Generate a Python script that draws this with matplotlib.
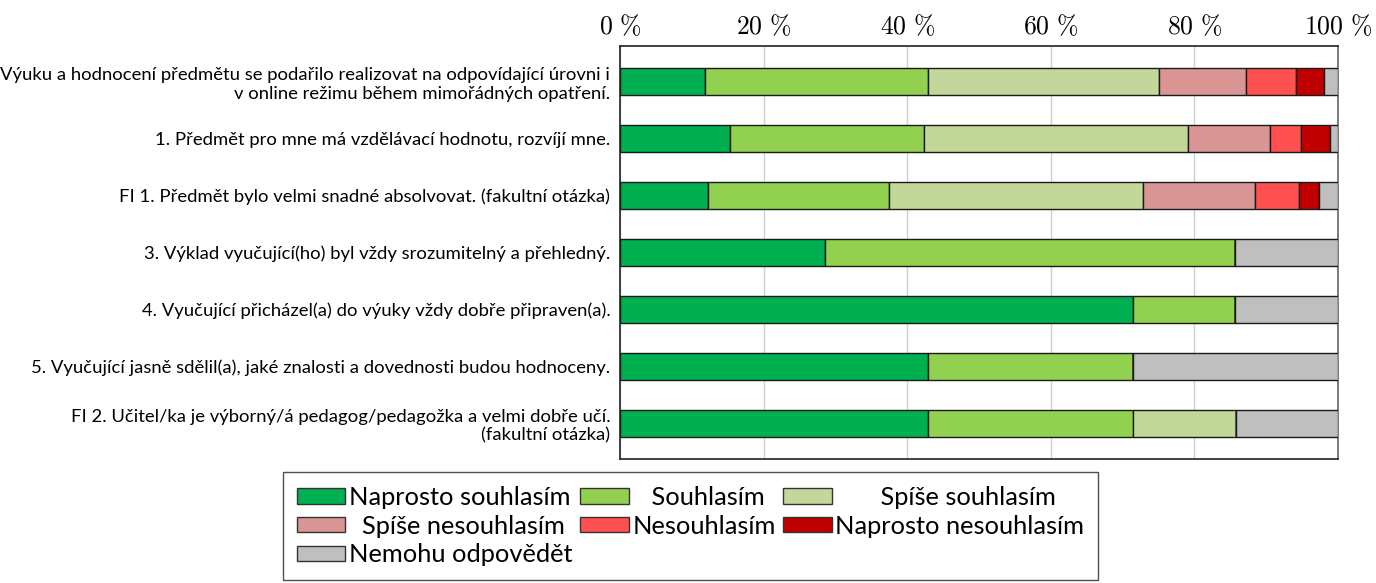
import numpy as np
import matplotlib
matplotlib.use("Agg")
import matplotlib.pyplot as plt
import matplotlib.patches as mpatches

plt.rcParams["mathtext.fontset"] = "cm"

# Otázky (shora dolů)
questions = [
    "Výuku a hodnocení předmětu se podařilo realizovat na odpovídající úrovni i\nv online režimu během mimořádných opatření.",
    "1. Předmět pro mne má vzdělávací hodnotu, rozvíjí mne.",
    "FI 1. Předmět bylo velmi snadné absolvovat. (fakultní otázka)",
    "3. Výklad vyučující(ho) byl vždy srozumitelný a přehledný.",
    "4. Vyučující přicházel(a) do výuky vždy dobře připraven(a).",
    "5. Vyučující jasně sdělil(a), jaké znalosti a dovednosti budou hodnoceny.",
    "FI 2. Učitel/ka je výborný/á pedagog/pedagožka a velmi dobře učí.\n(fakultní otázka)",
]

answers = [
    "Naprosto souhlasím", "Souhlasím", "Spíše souhlasím",
    "Spíše nesouhlasím", "Nesouhlasím", "Naprosto nesouhlasím",
    "Nemohu odpovědět",
]
# popisky v legendě vycentrované ve sloupci mezerami
legend_labels = [
    "Naprosto souhlasím", "   Souhlasím", "       Spíše souhlasím",
    "  Spíše nesouhlasím", "Nesouhlasím", "Naprosto nesouhlasím",
    "Nemohu odpovědět",
]
colors = ["#00B050", "#92D050", "#C4D79B", "#DA9694", "#FF5050", "#C00000", "#BFBFBF"]

# Podíly odpovědí v % (pořadí podle answers)
naprosto_souhlasim = [11.9, 15.3, 12.3, 28.6, 71.4, 42.9, 42.9]
souhlasim = [31.0, 27.0, 25.1, 57.1, 14.3, 28.6, 28.6]
spise_souhlasim = [32.1, 36.8, 35.4, 0.0, 0.0, 0.0, 14.3]
spise_nesouhlasim = [12.2, 11.4, 15.6, 0.0, 0.0, 0.0, 0.0]
nesouhlasim = [7.0, 4.4, 6.2, 0.0, 0.0, 0.0, 0.0]
naprosto_nesouhlasim = [3.9, 4.0, 2.8, 0.0, 0.0, 0.0, 0.0]
nemohu_odpovedet = [1.9, 1.1, 2.6, 14.3, 14.3, 28.5, 14.2]

series = [naprosto_souhlasim, souhlasim, spise_souhlasim, spise_nesouhlasim,
          nesouhlasim, naprosto_nesouhlasim, nemohu_odpovedet]

ticks = [0, 20, 40, 60, 80, 100]

fig = plt.figure(figsize=(13.76, 5.83), dpi=100)
ax = fig.add_axes([0.4506, 0.2127, 0.5218, 0.7083])

y = np.arange(len(questions))
left = np.zeros(len(questions))
handles = []
for name, vals, col in zip(legend_labels, series, colors):
    vals = np.array(vals)
    ax.barh(y, vals, left=left, height=0.47, color=col,
            edgecolor="#1a1a1a", linewidth=1.0, zorder=3)
    left += vals
    handles.append(mpatches.Patch(facecolor=col, edgecolor="#333333",
                                  linewidth=1.0, label=name))

ax.set_xlim(0, 100)
ax.set_ylim(len(questions) - 0.38, -0.62)
ax.set_yticks(y)
ax.set_yticklabels(questions, fontfamily="Lato", fontsize=13.3)
ax.tick_params(axis="y", length=0, pad=7)

ax.xaxis.tick_top()
ax.set_xticks(ticks)
ax.set_xticklabels([rf"${t}\ \%$" for t in ticks], fontsize=18.5)
ax.tick_params(axis="x", length=0, pad=4)
ax.grid(axis="x", color="#d0d0d0", linewidth=1.0, zorder=0)

for side in ["top", "bottom", "left"]:
    ax.spines[side].set_color("#222222")
ax.spines["right"].set_color("#666666")
for s in ax.spines.values():
    s.set_linewidth(1.2)

# Legenda po řádcích: matplotlib plní sloupce, proto přeskládat
order = [0, 3, 6, 1, 4, 2, 5]
leg = fig.legend(
    [handles[i] for i in order],
    [legend_labels[i] for i in order],
    ncol=3,
    loc="upper left",
    bbox_to_anchor=(283 / 1376, 1 - 472 / 583),
    prop={"family": "Lato", "size": 18.3},
    frameon=True,
    fancybox=False,
    edgecolor="#222222",
    handlelength=1.9,
    handleheight=0.55,
    handletextpad=0.15,
    columnspacing=0.3,
    labelspacing=0.22,
    borderpad=0.55,
    borderaxespad=0,
)
leg.get_frame().set_linewidth(1.0)

fig.savefig("out.png", dpi=100)
